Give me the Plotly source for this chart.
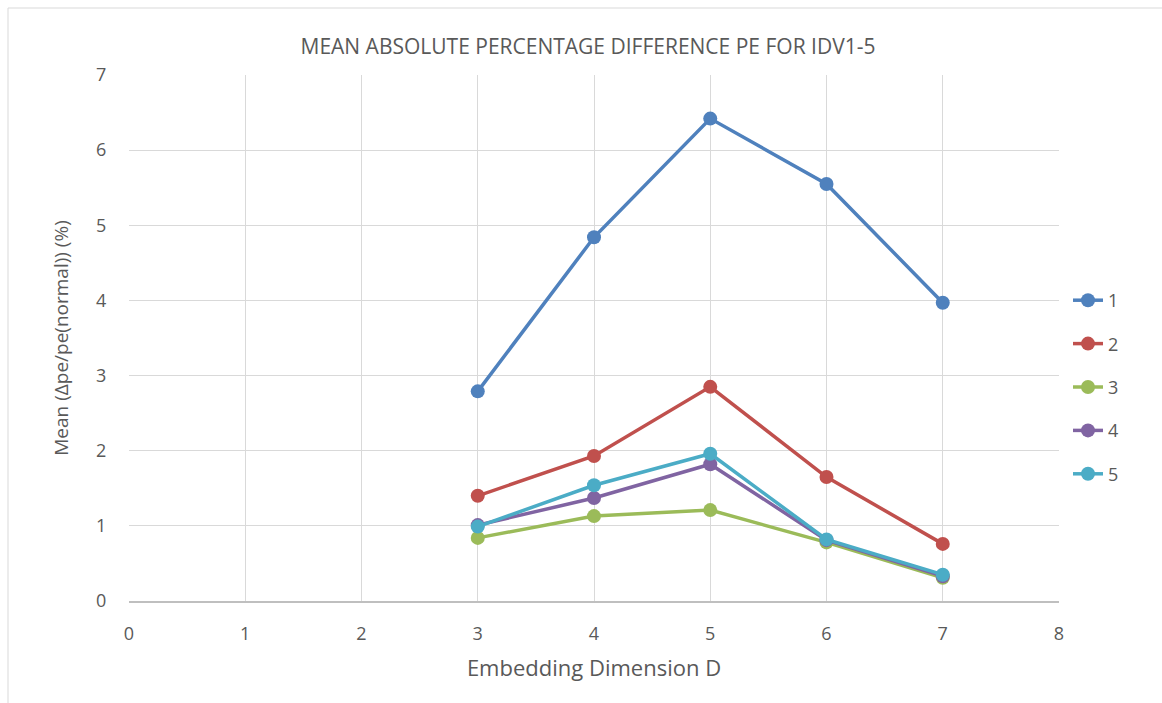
import plotly.graph_objects as go

# Embedding dimension D
dims = [3, 4, 5, 6, 7]

# Mean absolute percentage difference of PE, one series per IDV
idv1 = [2.79, 4.84, 6.42, 5.55, 3.97]
idv2 = [1.40, 1.93, 2.85, 1.65, 0.76]
idv3 = [0.84, 1.13, 1.21, 0.78, 0.31]
idv4 = [1.01, 1.37, 1.82, 0.81, 0.33]
idv5 = [0.99, 1.54, 1.96, 0.82, 0.35]

series_names = ["1", "2", "3", "4", "5"]
series_values = [idv1, idv2, idv3, idv4, idv5]
colors = ["#4F81BD", "#C0504D", "#9BBB59", "#8064A2", "#4BACC6"]

FONT = "Open Sans"
TXT = "#595959"

fig = go.Figure()
for name, vals, col in zip(series_names, series_values, colors):
    fig.add_trace(go.Scatter(
        x=dims, y=vals, name=name, legendgroup=name,
        mode="lines+markers",
        line=dict(color=col, width=3.5),
        marker=dict(color=col, size=14),
    ))

W, H = 1162, 703
L, R, T, B = 129, 1059, 75, 601


def px_x(px):
    return (px - L) / (R - L)


def px_y(py):
    return (B - py) / (B - T)


# chart-area border (top and left edges)
fig.add_shape(type="line", xref="paper", yref="paper",
              x0=px_x(8), x1=px_x(W + 5), y0=px_y(8), y1=px_y(8),
              line=dict(color="#D9D9D9", width=1))
fig.add_shape(type="line", xref="paper", yref="paper",
              x0=px_x(8), x1=px_x(8), y0=px_y(8), y1=px_y(H + 5),
              line=dict(color="#D9D9D9", width=1))

fig.update_layout(
    width=W, height=H,
    margin=dict(l=L, r=W - R, t=T, b=H - B),
    paper_bgcolor="white", plot_bgcolor="white",
    font=dict(family=FONT, color=TXT, size=17),
    title=dict(text="MEAN ABSOLUTE PERCENTAGE DIFFERENCE PE FOR IDV1-5",
               x=(268 + 908) / 2 / W, xanchor="center",
               y=1 - 47 / H, yanchor="middle",
               font=dict(family=FONT, size=21, color=TXT)),
    xaxis=dict(range=[0, 8], dtick=1, tick0=0,
               showgrid=True, gridcolor="#D9D9D9", gridwidth=1,
               zeroline=False, showline=True, linecolor="#BFBFBF", linewidth=1.5,
               ticks="outside", ticklen=16, tickcolor="rgba(0,0,0,0)",
               tickfont=dict(size=18, color=TXT),
               title=dict(text="Embedding Dimension D", standoff=16,
                          font=dict(size=22, color=TXT))),
    yaxis=dict(range=[0, 7], dtick=1, tick0=0,
               showgrid=True, gridcolor="#D9D9D9", gridwidth=1,
               zeroline=False, showline=False,
               ticks="outside", ticklen=18, tickcolor="rgba(0,0,0,0)",
               tickfont=dict(size=18, color=TXT),
               title=dict(text="Mean (Δpe/pe(normal)) (%)", standoff=22,
                          font=dict(size=19, color=TXT))),
    legend=dict(x=px_x(1068), xanchor="left", y=px_y(282), yanchor="top",
                tracegroupgap=17, font=dict(size=18, color=TXT),
                bgcolor="rgba(0,0,0,0)"),
    showlegend=True,
)

fig.write_html("out.html")
